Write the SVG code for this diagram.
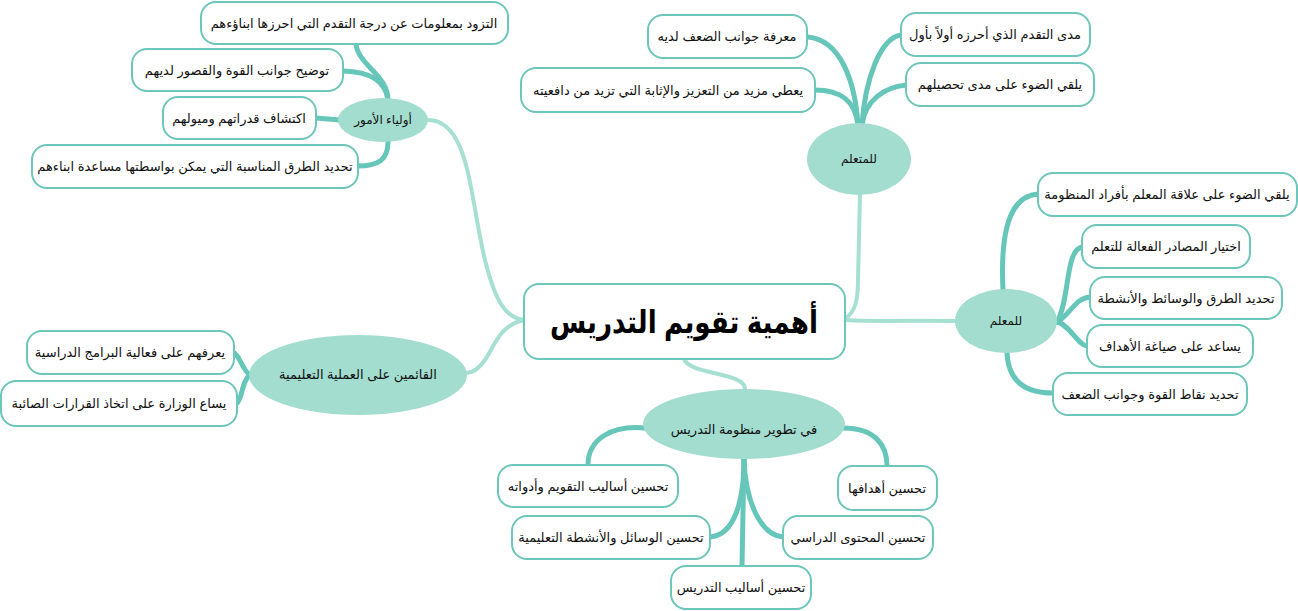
<svg xmlns="http://www.w3.org/2000/svg" width="1298" height="611" viewBox="0 0 1298 611">
<style>
.box{fill:#fff;stroke:#6cc6ba;stroke-width:2}
.ell{fill:#a2ddcf}
.t{font-family:"Liberation Sans","DejaVu Sans",sans-serif;font-size:13px;fill:#111;text-anchor:middle}
.te{font-family:"Liberation Sans","DejaVu Sans",sans-serif;font-size:12px;fill:#111;text-anchor:middle}
.title{font-family:"Liberation Sans","DejaVu Sans",sans-serif;font-size:32px;font-weight:bold;fill:#000;text-anchor:middle}
.c{fill:none;stroke:#66c6b9;stroke-width:5;stroke-linecap:round}
.m{fill:none;stroke:#a6e0d3;stroke-width:4;stroke-linecap:round}
</style>
<g id="connectors">
<path class="m" d="M428 120 C470 120 470 200 485 260 C495 300 505 318 524 320"/>
<path class="m" d="M524 320 C500 325 495 345 485 360 C478 370 472 373 466 373"/>
<path class="m" d="M845 320 C880 322 920 320 955 321"/>
<path class="m" d="M846 318 C855 312 858 300 858 280 L860 195"/>
<path class="m" d="M684 359 C690 375 745 372 745 389"/>
<path class="c" d="M388 100 C388 75 358 65 356 44"/>
<path class="c" d="M388 100 C385 80 370 72 343 71"/>
<path class="c" d="M340 120 L316 118"/>
<path class="c" d="M388 142 C388 160 378 166 358 166"/>
<path class="c" d="M858 125 C855 80 840 40 808 37"/>
<path class="c" d="M858 125 C855 100 840 90 815 90"/>
<path class="c" d="M862 125 C865 80 880 38 901 35"/>
<path class="c" d="M862 125 C865 100 885 87 906 85"/>
<path class="c" d="M1003 290 C1000 230 1010 196 1038 194"/>
<path class="c" d="M1057 322 C1070 300 1065 250 1082 247"/>
<path class="c" d="M1057 322 C1070 315 1075 298 1090 297"/>
<path class="c" d="M1057 322 C1070 325 1078 345 1087 346"/>
<path class="c" d="M1007 352 C1008 385 1030 393 1053 393"/>
<path class="c" d="M250 375 C242 370 240 355 233 352"/>
<path class="c" d="M250 375 C242 380 242 400 237 403"/>
<path class="c" d="M645 428 C610 425 588 440 588 465"/>
<path class="c" d="M843 428 C875 428 887 445 887 466"/>
<path class="c" d="M744 458 C744 500 735 535 710 537"/>
<path class="c" d="M744 458 L742 566"/>
<path class="c" d="M744 458 C745 500 760 535 783 537"/>
</g>
<g id="center"><rect class="box" x="524" y="284" width="321" height="75" rx="15"/><text class="title" x="684" y="333" textLength="268" lengthAdjust="spacingAndGlyphs">أهمية تقويم التدريس</text></g>
<g id="parents"><ellipse class="ell" cx="383" cy="120" rx="45" ry="22"/><text class="te" x="383" y="124">أولياء الأمور</text></g>
<g id="p1"><rect class="box" x="201" y="2" width="307" height="42" rx="15"/><text class="t" x="354" y="28">التزود بمعلومات عن درجة التقدم التي احرزها ابناؤءهم</text></g>
<g id="p2"><rect class="box" x="132" y="49" width="211" height="42" rx="15"/><text class="t" x="237" y="75">توضيح جوانب القوة والقصور لديهم</text></g>
<g id="p3"><rect class="box" x="163" y="97" width="153" height="42" rx="15"/><text class="t" x="239" y="123">اكتشاف قدراتهم وميولهم</text></g>
<g id="p4"><rect class="box" x="32" y="145" width="326" height="43" rx="15"/><text class="t" x="195" y="171">تحديد الطرق المناسبة التي يمكن بواسطتها مساعدة ابناءهم</text></g>
<g id="learner"><ellipse class="ell" cx="859" cy="159" rx="52" ry="36"/><text class="te" x="859" y="163">للمتعلم</text></g>
<g id="l1"><rect class="box" x="648" y="15" width="159" height="43" rx="15"/><text class="t" x="727" y="41">معرفة جوانب الضعف لديه</text></g>
<g id="l2"><rect class="box" x="521" y="68" width="294" height="44" rx="15"/><text class="t" x="668" y="95">يعطي مزيد من التعزيز والإثابة التي تزيد من دافعيته</text></g>
<g id="l3"><rect class="box" x="901" y="13" width="189" height="43" rx="15"/><text class="t" x="995" y="39">مدى التقدم الذي أحرزه أولاً بأول</text></g>
<g id="l4"><rect class="box" x="906" y="63" width="188" height="43" rx="15"/><text class="t" x="1000" y="89">يلقي الضوء على مدى تحصيلهم</text></g>
<g id="teacher"><ellipse class="ell" cx="1006" cy="321" rx="51" ry="32"/><text class="te" x="1006" y="325">للمعلم</text></g>
<g id="t1"><rect class="box" x="1038" y="173" width="259" height="43" rx="15"/><text class="t" x="1167" y="199">يلقي الضوء على علاقة المعلم بأفراد المنظومة</text></g>
<g id="t2"><rect class="box" x="1082" y="225" width="168" height="43" rx="15"/><text class="t" x="1166" y="251">اختيار المصادر الفعالة للتعلم</text></g>
<g id="t3"><rect class="box" x="1090" y="277" width="192" height="42" rx="15"/><text class="t" x="1186" y="303">تحديد الطرق والوسائط والأنشطة</text></g>
<g id="t4"><rect class="box" x="1087" y="325" width="166" height="42" rx="15"/><text class="t" x="1170" y="351">يساعد على صياغة الأهداف</text></g>
<g id="t5"><rect class="box" x="1053" y="373" width="194" height="42" rx="15"/><text class="t" x="1150" y="399">تحديد نقاط القوة وجوانب الضعف</text></g>
<g id="stake"><ellipse class="ell" cx="358" cy="375" rx="109" ry="40"/><text class="t" x="358" y="379">القائمين على العملية التعليمية</text></g>
<g id="s1"><rect class="box" x="27" y="331" width="207" height="43" rx="15"/><text class="t" x="130" y="357">يعرفهم على فعالية البرامج الدراسية</text></g>
<g id="s2"><rect class="box" x="1" y="381" width="236" height="45" rx="15"/><text class="t" x="119" y="408">يساع الوزارة على اتخاذ القرارات الصائبة</text></g>
<g id="system"><ellipse class="ell" cx="744" cy="424" rx="101" ry="35"/><text class="t" x="744" y="434">في تطوير منظومة التدريس</text></g>
<g id="b1"><rect class="box" x="498" y="465" width="180" height="42" rx="15"/><text class="t" x="588" y="491">تحسين أساليب التقويم وأدواته</text></g>
<g id="b2"><rect class="box" x="512" y="516" width="198" height="43" rx="15"/><text class="t" x="611" y="542">تحسين الوسائل والأنشطة التعليمية</text></g>
<g id="b3"><rect class="box" x="671" y="566" width="140" height="43" rx="15"/><text class="t" x="741" y="592">تحسين أساليب التدريس</text></g>
<g id="b4"><rect class="box" x="838" y="466" width="99" height="44" rx="15"/><text class="t" x="887" y="493">تحسين أهدافها</text></g>
<g id="b5"><rect class="box" x="783" y="516" width="150" height="43" rx="15"/><text class="t" x="858" y="542">تحسين المحتوى الدراسي</text></g>
</svg>
